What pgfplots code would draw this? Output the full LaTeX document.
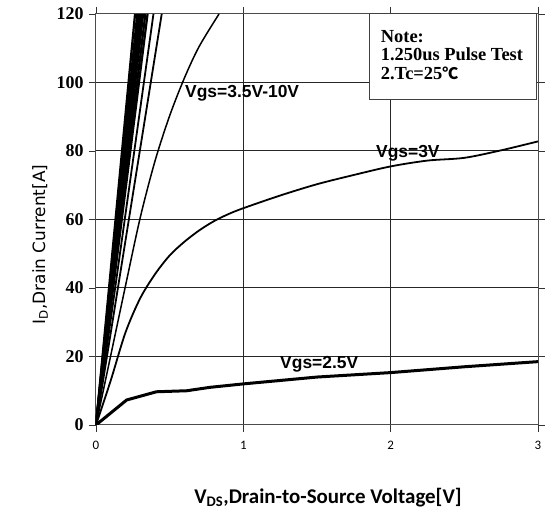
\documentclass[border=0pt]{standalone}
\usepackage{pgfplots}
\pgfplotsset{compat=1.18}
\usepackage{fontspec}
\setmainfont{Liberation Sans}
\newfontfamily\timesf{Liberation Serif}
\newfontfamily\carlito{Carlito}
\newfontfamily\dejavu{DejaVu Sans}
\newfontfamily\cjk{Noto Sans CJK SC}
\begin{document}
\begin{tikzpicture}[x=1bp,y=1bp]
\begin{axis}[
  at={(0,0)}, anchor=south west,
  scale only axis, width=442bp, height=411bp,
  xmin=0, xmax=3, ymin=0, ymax=120,
  xtick={0,1,2,3}, ytick={0,20,40,60,80,100,120},
  /pgf/number format/assume math mode=true,
  grid=major, major grid style={black!85, line width=1bp},
  axis line style={gray!60!black, line width=1bp},
  tick align=outside, major tick length=7bp,
  tick style={gray!40!black, line width=0.9bp},
  yticklabel style={font=\timesf\bfseries\fontsize{18}{18}\selectfont, xshift=-2bp},
  xticklabel style={font=\carlito\fontsize{13}{13}\selectfont, yshift=-6bp},
  clip=true,
]
% Vgs = 5..10 V bundle
\addplot[black, line width=2.2bp] coordinates {(0,0) (0.265,120)};
\addplot[black, line width=2.2bp] coordinates {(0,0) (0.28,120)};
\addplot[black, line width=2.2bp] coordinates {(0,0) (0.29,120)};
\addplot[black, line width=2.2bp] coordinates {(0,0) (0.30,120)};
\addplot[black, line width=2.2bp] coordinates {(0,0) (0.31,120)};
\addplot[black, line width=2.2bp] coordinates {(0,0) (0.32,120)};
\addplot[black, line width=2.2bp] coordinates {(0,0) (0.335,120)};
\addplot[black, line width=2.2bp] coordinates {(0,0) (0.35,120)};
% Vgs = 4.5 V, 4 V
\addplot[black, line width=1.8bp] coordinates {(0,0) (0.39,120)};
\addplot[black, line width=1.8bp] coordinates {(0,0) (0.446,120)};
% Vgs = 3.5 V
\addplot[black, line width=1.5bp, smooth] coordinates {
(0,0) (0.1,20.3) (0.2,40.6) (0.3,60.5) (0.4,77) (0.5,90.3) (0.6,101.3) (0.7,110.5) (0.835,120)};
% Vgs = 3 V
\addplot[black, line width=1.8bp, smooth] coordinates {
(0,0) (0.1,13) (0.2,27) (0.3,37) (0.4,44) (0.5,49.5) (0.6,53.5) (0.7,56.8) (0.8,59.5)
(0.9,61.6) (1,63.3) (1.25,67) (1.5,70.3) (1.75,73) (2,75.5) (2.25,77.2) (2.5,78) (2.75,80.2) (3,82.8)};
% Vgs = 2.5 V
\addplot[black, line width=3bp] coordinates {
(0,0) (0.208,7.3) (0.41,9.7) (0.616,10) (0.774,11) (1,12) (1.5,14) (2,15.3) (2.5,17) (3,18.5)};
% labels
\node[anchor=base west, inner sep=0, font=\bfseries\fontsize{17.5}{17.5}\selectfont] at (axis cs:0.604,95.7) {Vgs=3.5V-10V};
\node[anchor=base west, inner sep=0, font=\bfseries\fontsize{17.5}{17.5}\selectfont] at (axis cs:1.90,78.2) {Vgs=3V};
\node[anchor=base west, inner sep=0, font=\bfseries\fontsize{17.5}{17.5}\selectfont] at (axis cs:1.249,16.35) {Vgs=2.5V};
% note box
\draw[fill=white, draw=gray!50!black, line width=1bp] (axis cs:1.853,94.9) rectangle (axis cs:2.99,120);
\node[anchor=base west, inner sep=0, font=\timesf\bfseries\fontsize{18.5}{18.5}\selectfont] at (axis cs:1.932,111.7) {Note:};
\node[anchor=base west, inner sep=0, font=\timesf\bfseries\fontsize{18.5}{18.5}\selectfont] at (axis cs:1.932,106.3) {1.250us Pulse Test};
\node[anchor=base west, inner sep=0, font=\timesf\bfseries\fontsize{18.5}{18.5}\selectfont] at (axis cs:1.932,101) {2.Tc=25{\cjk\fontsize{16}{16}\selectfont ℃}};
\end{axis}
\node[font=\carlito\bfseries\fontsize{21}{21}\selectfont] at (232,-73) {V\textsubscript{DS},Drain-to-Source Voltage[V]};
\node[rotate=90, font=\dejavu\fontsize{17}{17}\selectfont] at (-56,180.5) {I\textsubscript{D},Drain Current[A]};
\pgfresetboundingbox
\path (-96,-90) rectangle (449,425);
\end{tikzpicture}
\end{document}
